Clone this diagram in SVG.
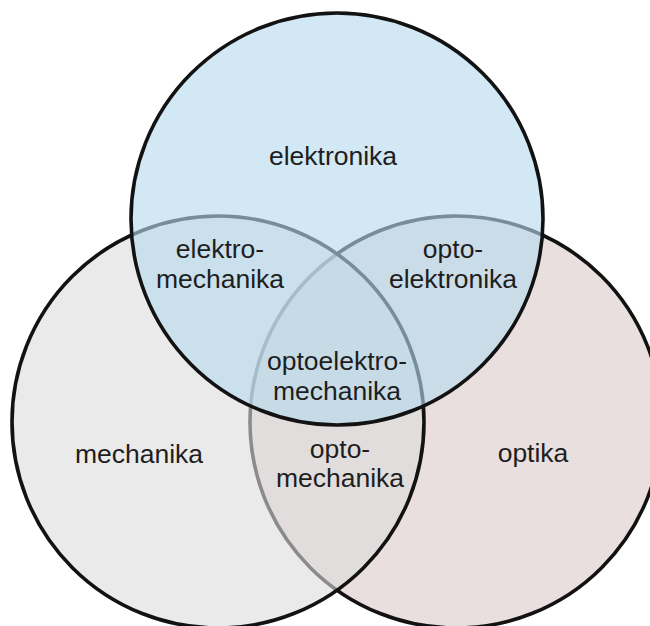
<svg xmlns="http://www.w3.org/2000/svg" width="650" height="626" viewBox="0 0 650 626">
<style>
.c{stroke:#121212;stroke-width:3.6}
.t{font-family:"Liberation Sans",Arial,sans-serif;font-size:26.5px;fill:#1e1e1e;text-anchor:middle}
</style>
<rect width="650" height="626" fill="#fff"/>
<g id="optika">
<circle class="c" cx="456" cy="422" r="206" fill="rgb(233,223,223)"/>
</g>
<g id="mechanika">
<circle class="c" cx="218" cy="422" r="206" fill="rgb(222,220,220)" fill-opacity="0.6"/>
</g>
<g id="elektronika">
<circle class="c" cx="337" cy="219" r="206" fill="rgb(183,218,238)" fill-opacity="0.62"/>
</g>
<g id="labels">
<g id="label-elektronika"><text class="t" x="333" y="165">elektronika</text></g>
<g id="label-elektromechanika"><text class="t" x="220" y="258">elektro-</text><text class="t" x="220" y="288">mechanika</text></g>
<g id="label-optoelektronika"><text class="t" x="453" y="258">opto-</text><text class="t" x="453" y="288">elektronika</text></g>
<g id="label-optoelektromechanika"><text class="t" x="337" y="370">optoelektro-</text><text class="t" x="337" y="400">mechanika</text></g>
<g id="label-mechanika"><text class="t" x="139" y="463">mechanika</text></g>
<g id="label-optomechanika"><text class="t" x="340" y="458">opto-</text><text class="t" x="340" y="487">mechanika</text></g>
<g id="label-optika"><text class="t" x="533" y="462">optika</text></g>
</g>
</svg>
